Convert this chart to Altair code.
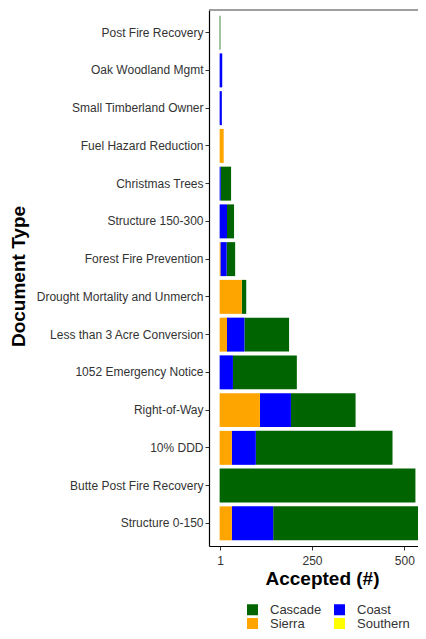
import altair as alt
import pandas as pd

doc_types = [
    "Post Fire Recovery",
    "Oak Woodland Mgmt",
    "Small Timberland Owner",
    "Fuel Hazard Reduction",
    "Christmas Trees",
    "Structure 150-300",
    "Forest Fire Prevention",
    "Drought Mortality and Unmerch",
    "Less than 3 Acre Conversion",
    "1052 Emergency Notice",
    "Right-of-Way",
    "10% DDD",
    "Butte Post Fire Recovery",
    "Structure 0-150",
]
cascade = [2, 0, 0, 0, 28, 19, 23, 12, 121, 173, 175, 370, 530, 407]
coast = [0, 7, 6, 0, 3, 20, 17, 0, 47, 36, 84, 65, 0, 112]
sierra = [0, 0, 0, 11, 0, 0, 2, 60, 20, 0, 109, 33, 0, 33]
southern = [0, 0, 0, 0, 0, 0, 0, 0, 0, 0, 0, 0, 0, 0]

regions = ["Cascade", "Coast", "Sierra", "Southern"]
region_colors = ["#006400", "#0000FF", "#FFA500", "#FFFF00"]
stack_order = {"Southern": 0, "Sierra": 1, "Coast": 2, "Cascade": 3}
x_ticks = [1, 250, 500]

rows = []
for name, vals in zip(regions, [cascade, coast, sierra, southern]):
    for d, v in zip(doc_types, vals):
        if v > 0:
            rows.append({"doc": d, "region": name, "value": v, "ord": stack_order[name]})
df = pd.DataFrame(rows)

FONT = "Liberation Sans"
W, H = 209, 536

bars = alt.Chart(df).mark_bar(clip=True).encode(
    x=alt.X(
        "value:Q",
        stack="zero",
        scale=alt.Scale(domain=[-28.8, 537], nice=False, zero=False),
        axis=alt.Axis(
            values=x_ticks,
            title="Accepted (#)",
            grid=False,
            tickSize=4,
            labelPadding=5,
            titleY=32,
            titleX=113,
            titleBaseline="middle",
        ),
    ),
    y=alt.Y(
        "doc:N",
        sort=doc_types,
        scale=alt.Scale(paddingInner=0.1, paddingOuter=0.15),
        axis=alt.Axis(
            title="Document Type",
            tickSize=4,
            labelPadding=2,
            titleX=-181,
            titleY=266,
            titleAngle=270,
            titleAlign="center",
            titleBaseline="bottom",
        ),
    ),
    color=alt.Color(
        "region:N",
        scale=alt.Scale(domain=regions, range=region_colors),
        legend=alt.Legend(
            orient="none",
            legendX=37,
            legendY=593,
            direction="horizontal",
            columns=2,
            title=None,
            symbolType="square",
            symbolSize=121,
            symbolStrokeWidth=0,
            symbolOpacity=1,
            labelFontSize=13,
            labelColor="#333333",
            labelFont=FONT,
            rowPadding=0,
            columnPadding=11,
            labelOffset=11,
        ),
    ),
    order=alt.Order("ord:Q", sort="ascending"),
)

top_border = alt.Chart(pd.DataFrame({"a": [0]})).mark_rule(
    color="#7f7f7f", strokeWidth=1.5
).encode(x=alt.value(0), x2=alt.value(W), y=alt.value(0))

chart = (
    alt.layer(bars, top_border)
    .properties(
        width=W,
        height=H,
        autosize=alt.AutoSizeParams(type="none"),
        padding={"left": 201, "top": 2, "right": 0, "bottom": 84},
    )
    .configure_view(stroke=None)
    .configure_axis(
        labelFont=FONT,
        labelFontSize=12,
        labelColor="#333333",
        titleFont=FONT,
        titleFontSize=19,
        titleFontWeight="bold",
        titleColor="#000000",
        domainColor="#000000",
        domainWidth=1.2,
        tickColor="#333333",
        tickWidth=1,
    )
)

chart.save("out.html", embed_options={"renderer": "svg", "actions": False})
